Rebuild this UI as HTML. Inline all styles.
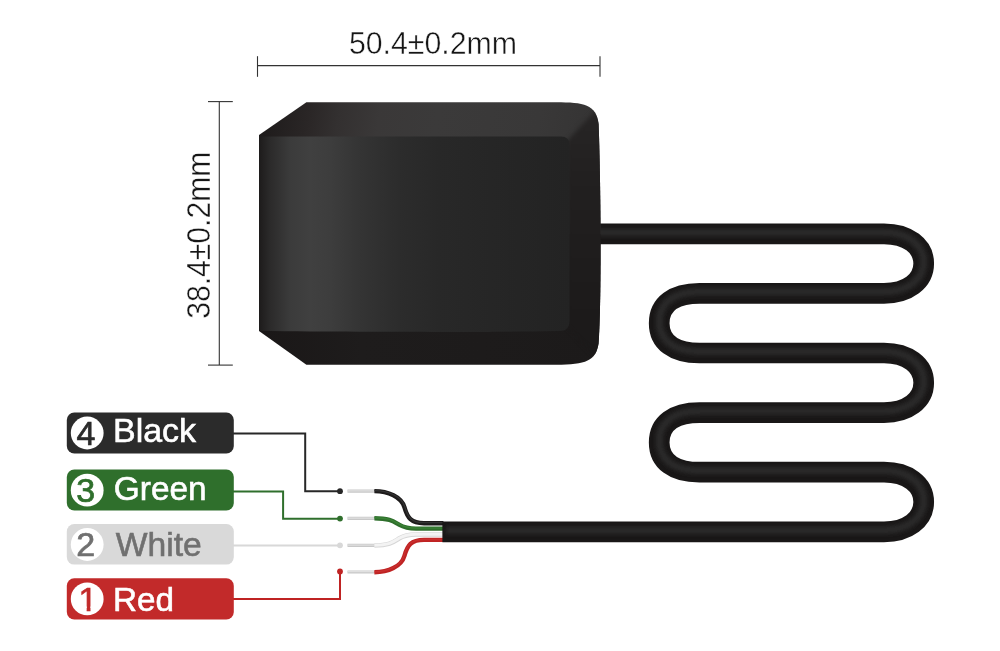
<!DOCTYPE html>
<html lang="en">
<head>
<meta charset="utf-8">
<title>GPS Antenna Dimensions and Wiring</title>
<style>
  html, body { margin: 0; padding: 0; background: #ffffff; }
  body { width: 1000px; height: 651px; overflow: hidden; }
  svg { display: block; will-change: transform; }
  text { font-family: "Liberation Sans", sans-serif; }
  .dim { font-size: 31px; fill: #161616; stroke: #ffffff; stroke-width: 0.45; paint-order: fill stroke; }
  .lbl { font-size: 34px; stroke-width: 0.6; }
  .num { font-size: 34px; text-anchor: middle; stroke-width: 0.7; }
</style>
</head>
<body>
<svg width="1000" height="651" viewBox="0 0 1000 651">
  <defs>
    <linearGradient id="gFront" gradientUnits="userSpaceOnUse" x1="259" y1="0" x2="570" y2="0">
      <stop offset="0" stop-color="#1d1b1b"/>
      <stop offset="0.035" stop-color="#2b2a2a"/>
      <stop offset="0.10" stop-color="#3b3b3b"/>
      <stop offset="0.165" stop-color="#404040"/>
      <stop offset="0.23" stop-color="#3d3d3d"/>
      <stop offset="0.325" stop-color="#343434"/>
      <stop offset="0.45" stop-color="#2c2c2c"/>
      <stop offset="0.58" stop-color="#282828"/>
      <stop offset="1" stop-color="#232323"/>
    </linearGradient>
    <linearGradient id="gTop" gradientUnits="userSpaceOnUse" x1="270" y1="100" x2="600" y2="160">
      <stop offset="0" stop-color="#1f1c1c"/>
      <stop offset="0.12" stop-color="#2a2626"/>
      <stop offset="0.21" stop-color="#333030"/>
      <stop offset="0.33" stop-color="#3a3838"/>
      <stop offset="0.5" stop-color="#3b3a3a"/>
      <stop offset="0.8" stop-color="#393838"/>
      <stop offset="1" stop-color="#343333"/>
    </linearGradient>
    <linearGradient id="gBottom" gradientUnits="userSpaceOnUse" x1="259" y1="0" x2="600" y2="0">
      <stop offset="0" stop-color="#1a1717"/>
      <stop offset="0.3" stop-color="#1e1c1c"/>
      <stop offset="1" stop-color="#1c1a1a"/>
    </linearGradient>
    <linearGradient id="gRight" gradientUnits="userSpaceOnUse" x1="0" y1="100" x2="0" y2="365">
      <stop offset="0" stop-color="#282626"/>
      <stop offset="0.3" stop-color="#222020"/>
      <stop offset="0.75" stop-color="#1d1b1b"/>
      <stop offset="1" stop-color="#1b1919"/>
    </linearGradient>
    <clipPath id="bodyClip">
      <path d="M259 135 L306.4 102.3 H556 C584 102.3 596 104.5 598.6 124 C600 160 600.6 220 600.6 240 C600.6 290 600 320 598.6 343 C596 361 586 364.7 556 364.7 H306.4 L259 331 Z"/>
    </clipPath>
    <clipPath id="oneClip">
      <path d="M70 580 H106 V606.6 H90.47 V613 H86.68 V606.6 H70 Z"/>
    </clipPath>
    <filter id="soft1" x="-5%" y="-5%" width="110%" height="110%">
      <feGaussianBlur stdDeviation="1.2"/>
    </filter>
    <filter id="soft04" x="-5%" y="-5%" width="110%" height="110%" color-interpolation-filters="sRGB">
      <feGaussianBlur stdDeviation="0.35"/>
    </filter>
    <filter id="soft2" x="-50%" y="-10%" width="200%" height="120%" color-interpolation-filters="sRGB">
      <feGaussianBlur stdDeviation="2.2"/>
    </filter>

    <filter id="soft" x="-5%" y="-50%" width="110%" height="200%">
      <feGaussianBlur stdDeviation="2"/>
    </filter>
  </defs>

  <!-- dimension: width -->
  <g stroke="#333333" stroke-width="1.1" fill="none">
    <path d="M257.5 65.6 H600"/>
    <path d="M257.5 56.2 V76.8"/>
    <path d="M600 56.2 V76.8"/>
    <path d="M219.3 101.6 V365.1"/>
    <path d="M208 101.6 H232.8"/>
    <path d="M208 365.1 H232.8"/>
  </g>
  <text class="dim" x="348.9" y="53.9" textLength="168.2" lengthAdjust="spacingAndGlyphs">50.4±0.2mm</text>
  <text class="dim" style="font-size:33px" transform="translate(209.6 318.8) rotate(-90)" x="0" y="0" textLength="167.2" lengthAdjust="spacingAndGlyphs">38.4±0.2mm</text>

  <!-- wires -->
  <g fill="none" stroke-linecap="butt">
    <path stroke="#c8c8c8" stroke-width="3.2" d="M347.5 491.2 H375 M347.5 518.4 H375 M347.5 545.4 H375 M347.5 572 H375"/>
    <path stroke="#e0e0e0" stroke-width="1.2" d="M347.5 490.9 H375 M347.5 518.1 H375 M347.5 545.1 H375 M347.5 571.7 H375"/>
    <path stroke="#bf2323" stroke-width="4.4" d="M374.4 572.2 C388 572.2 401.4 566.6 404.4 556 C407.4 545.4 411 539.9 424 539.9 H443.4"/>
    <path stroke="#c92f2f" stroke-width="1.3" d="M374.4 571.8 C388 571.8 401 566.2 404 555.6 C407 545 411 539.5 424 539.5 H443.4"/>
    <path stroke="#d6d6d6" stroke-width="4.7" d="M374.4 545.5 C390 545.5 394 541.7 399 538.6 S408 534.5 416 534.5 H443.4"/>
    <path stroke="#f3f3f3" stroke-width="3" d="M374.4 545.2 C390 545.2 394 541.4 399 538.3 S408 534.2 416 534.2 H443.4"/>
    <path stroke="#2f6f2c" stroke-width="4.4" d="M374.4 518.2 C390 518.2 394 521.8 399 524.6 S408 528.6 416 528.6 H443.4"/>
    <path stroke="#3a8236" stroke-width="1.4" d="M374.4 517.7 C390 517.7 394 521.3 399 524.1 S408 528.1 416 528.1 H443.4"/>
    <path stroke="#1d1b1b" stroke-width="4.4" d="M374.4 491.1 C388 491.1 401.4 496.7 404.4 507.2 C407.4 517.7 411 523.2 424 523.2 H443.4"/>
    <path stroke="#333333" stroke-width="1.3" d="M374.4 490.6 C388 490.6 401.8 496.3 404.8 506.8 C407.8 517.3 411.4 522.7 424 522.7 H443.4"/>
  </g>

  <!-- cable -->
  <g fill="none" stroke-linecap="butt" stroke-linejoin="round">
    <path stroke="#191717" stroke-width="20.7" d="M598 233.8 H884 C907.5 233.8 923.7 246.0 923.7 263.6 C923.7 281.2 907.5 293.4 884 293.4 H699.5 C673.5 293.4 659.2 304.6 659.2 323.2 C659.2 341.8 673.5 353.0 699.5 353.0 H884 C907.5 353.0 923.7 365.2 923.7 382.8 C923.7 400.4 907.5 412.6 884 412.6 H699.5 C673.5 412.6 659.2 423.8 659.2 442.4 C659.2 461.0 673.5 472.2 699.5 472.2 H884 C907.5 472.2 923.7 484.4 923.7 502.0 C923.7 519.6 907.5 531.8 884 531.8 H442.4"/>
    <path stroke="#333333" stroke-width="7" opacity="0.75" filter="url(#soft)" d="M598 232.2 H884 C907.5 232.2 923.7 244.4 923.7 262.0 C923.7 279.6 907.5 291.8 884 291.8 H699.5 C673.5 291.8 659.2 303.0 659.2 321.6 C659.2 340.2 673.5 351.4 699.5 351.4 H884 C907.5 351.4 923.7 363.6 923.7 381.2 C923.7 398.8 907.5 411.0 884 411.0 H699.5 C673.5 411.0 659.2 422.2 659.2 440.8 C659.2 459.4 673.5 470.6 699.5 470.6 H884 C907.5 470.6 923.7 482.8 923.7 500.4 C923.7 518.0 907.5 530.2 884 530.2 H446"/>
  </g>

  <!-- antenna body -->
  <g clip-path="url(#bodyClip)">
    <rect x="250" y="95" width="360" height="140" fill="url(#gTop)"/>
    <rect x="250" y="234" width="360" height="140" fill="url(#gBottom)"/>
    <path fill="url(#gRight)" filter="url(#soft2)" d="M567 141 L612 93 V374 L567 326 Z"/>
    <path fill="url(#gFront)" filter="url(#soft04)" d="M250 136.4 H561 Q569.6 136.4 569.6 145 V321 Q569.6 330.6 561 331 C500 332.3 400 332.2 250 331 Z"/>
  </g>

  <!-- leader lines -->
  <g fill="none" stroke-width="2" stroke-linejoin="miter">
    <path stroke="#272727" d="M232 433.4 H305.2 V491.3 H340"/>
    <path stroke="#2f6f2c" d="M232 491.4 H283.1 V518.8 H340"/>
    <path stroke="#d8d8d8" d="M232 545.4 H340"/>
    <path stroke="#bf2323" d="M232 599 H340 V571.6"/>
  </g>
  <circle cx="340" cy="491.2" r="2.9" fill="#272727"/>
  <circle cx="340" cy="518.6" r="2.9" fill="#2f6f2c"/>
  <circle cx="340" cy="545.3" r="2.9" fill="#d8d8d8"/>
  <circle cx="340" cy="571.5" r="2.9" fill="#bf2323"/>

  <!-- labels -->
  <g>
    <rect x="66.8" y="412.6" width="167" height="40.8" rx="7.5" fill="#2b2b2b"/>
    <circle cx="87.2" cy="433" r="16.4" fill="#ffffff"/>
    <text class="num" x="85.9" y="444.6" fill="#2b2b2b" stroke="#2b2b2b">4</text>
    <text class="lbl" x="113" y="442" fill="#ffffff" stroke="#ffffff" textLength="83" lengthAdjust="spacingAndGlyphs">Black</text>
  </g>
  <g>
    <rect x="66.8" y="469.6" width="167" height="40.9" rx="7.5" fill="#2f6f2c"/>
    <circle cx="87.2" cy="490.2" r="16.4" fill="#ffffff"/>
    <text class="num" x="85.8" y="501.8" fill="#2f6f2c" stroke="#2f6f2c">3</text>
    <text class="lbl" x="113.8" y="500" fill="#ffffff" stroke="#ffffff" textLength="92.8" lengthAdjust="spacingAndGlyphs">Green</text>
  </g>
  <g>
    <rect x="66.8" y="524.1" width="167" height="40.5" rx="7.5" fill="#d9d9d9"/>
    <circle cx="87.2" cy="544.5" r="16.4" fill="#ffffff"/>
    <text class="num" x="85.8" y="556.2" fill="#707070" stroke="#707070">2</text>
    <text class="lbl" x="115.8" y="555.8" fill="#707070" stroke="#707070" textLength="86" lengthAdjust="spacingAndGlyphs">White</text>
  </g>
  <g>
    <rect x="66.8" y="578.2" width="167" height="41.2" rx="7.5" fill="#c22a2a"/>
    <circle cx="87.2" cy="598.9" r="16.4" fill="#ffffff"/>
    <text class="num" x="88" y="611" fill="#c22a2a" stroke="#c22a2a" clip-path="url(#oneClip)">1</text>
    <text class="lbl" x="113" y="611" fill="#ffffff" stroke="#ffffff" textLength="61" lengthAdjust="spacingAndGlyphs">Red</text>
  </g>
</svg>
</body>
</html>
